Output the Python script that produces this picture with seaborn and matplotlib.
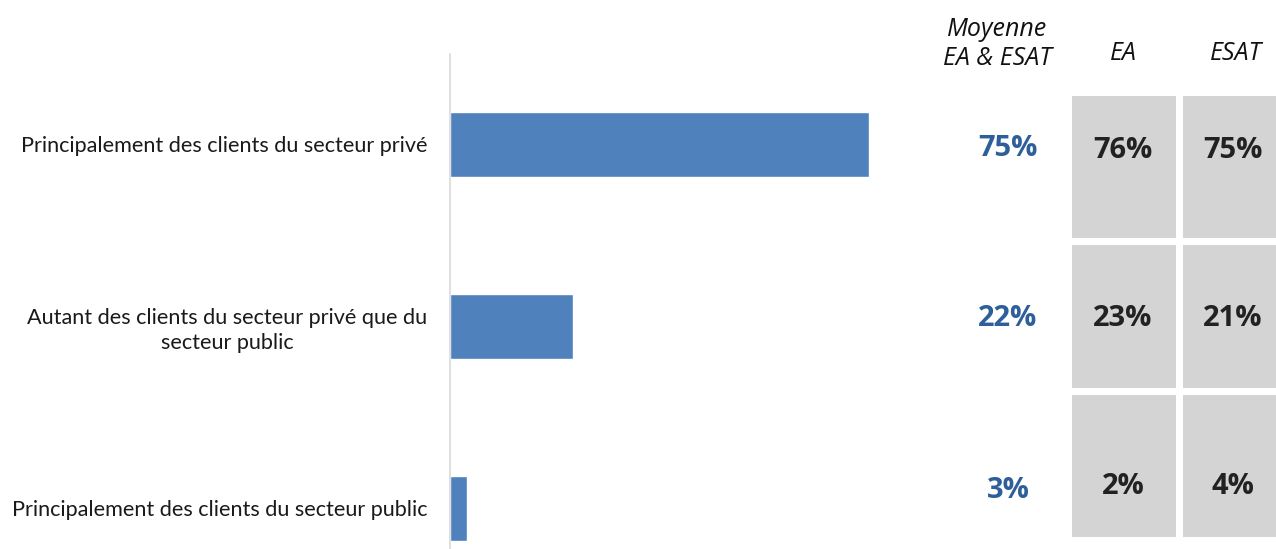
import matplotlib
matplotlib.use("Agg")
import matplotlib.pyplot as plt
import seaborn as sns
import pandas as pd
import numpy as np
from matplotlib.colors import ListedColormap

categories = [
    "Principalement des clients du secteur privé",
    "Autant des clients du secteur privé que du\nsecteur public",
    "Principalement des clients du secteur public",
]
moyenne = [75, 22, 3]
ea = [76, 23, 2]
esat = [75, 21, 4]
col_headers = ["EA", "ESAT"]
moy_header = "Moyenne\nEA & ESAT"

W, H = 1276, 549
sns.set_theme(style="white")
plt.rcParams["font.family"] = ["Lato", "DejaVu Sans"]

fig = plt.figure(figsize=(W / 100, H / 100), dpi=100)

def fx(px):
    return px / W

def fy(py):
    return 1 - py / H

# main bar axes
ax_l, ax_r, ax_t, ax_b = 450, 900, 53.5, 549
ax = fig.add_axes([fx(ax_l), fy(ax_b), fx(ax_r - ax_l), (ax_b - ax_t) / H])
df = pd.DataFrame({"cat": categories, "val": moyenne})
sns.barplot(data=df, x="val", y="cat", color="#4F81BD", width=0.357,
            saturation=1, ax=ax, orient="h")
ppu = 419 / 75.0
ax.set_xlim(0, (ax_r - ax_l) / ppu)
spacing = 182.0
ax.set_ylim((ax_b - 144.5) / spacing, -(144.5 - ax_t) / spacing)
ax.set_xlabel("")
ax.set_ylabel("")
ax.set_xticks([])
for s in ["top", "right", "bottom"]:
    ax.spines[s].set_visible(False)
ax.spines["left"].set_color("#d9d9d9")
ax.spines["left"].set_linewidth(1.2)
ax.tick_params(axis="y", length=0, pad=16.5, labelsize=15.6, labelcolor="#1a1a1a")
for lab in ax.get_yticklabels():
    lab.set_multialignment("center")
    lab.set_linespacing(1.3)

# heatmap of EA / ESAT cells
hx0, cellw, hy0, cellh = 1067.5, 111.0, 91.5, 149.5
hax = fig.add_axes([fx(hx0), fy(hy0 + 3 * cellh), fx(2 * cellw), 3 * cellh / H])
mat = pd.DataFrame({"EA": ea, "ESAT": esat})
sns.heatmap(mat, cmap=ListedColormap(["#d4d4d4"]), cbar=False, annot=False,
            linewidths=5.0, linecolor="white", ax=hax)
hax.set_xticks([])
hax.set_yticks([])
hax.set_xlabel("")
hax.set_ylabel("")

# value texts
vfam = ["Open Sans", "DejaVu Sans"]
row_y = [150, 318, 487]
moy_y = [148, 318, 491]
for i in range(3):
    fig.text(fx(1008), fy(moy_y[i]), f"{moyenne[i]}%", ha="center", va="center",
             fontsize=21, fontweight="bold", color="#2E5F9A", family=vfam)
    fig.text(fx(1123), fy(row_y[i]), f"{ea[i]}%", ha="center", va="center",
             fontsize=21, fontweight="bold", color="#222222", family=vfam)
    fig.text(fx(1233), fy(row_y[i]), f"{esat[i]}%", ha="center", va="center",
             fontsize=21, fontweight="bold", color="#222222", family=vfam)

# headers
hfam = ["Open Sans", "DejaVu Sans"]
fig.text(fx(997), fy(44), moy_header, ha="center", va="center", fontsize=18,
         fontstyle="italic", color="#111111", linespacing=1.2, family=hfam)
fig.text(fx(1123), fy(53), col_headers[0], ha="center", va="center", fontsize=18,
         fontstyle="italic", color="#111111", family=hfam)
fig.text(fx(1236), fy(53), col_headers[1], ha="center", va="center", fontsize=18,
         fontstyle="italic", color="#111111", family=hfam)

fig.savefig("out.png", dpi=100)
